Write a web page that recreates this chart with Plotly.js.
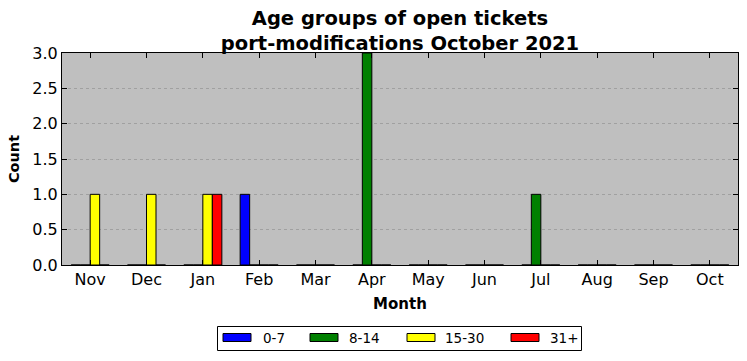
<!DOCTYPE html>
<html>
<head>
<meta charset="utf-8">
<script src="https://cdn.plot.ly/plotly-3.0.1.min.js"></script>
<style>html,body{margin:0;padding:0;background:#fff;}#chart{width:747px;height:361px;}</style>
</head>
<body>
<div id="chart"></div>
<script>
// Data
const months = ["Nov","Dec","Jan","Feb","Mar","Apr","May","Jun","Jul","Aug","Sep","Oct"];
const seriesNames = ["0-7","8-14","15-30","31+"];
const seriesColors = ["#0000ff","#008000","#ffff00","#ff0000"];
const age0_7   = [0,0,0,1,0,0,0,0,0,0,0,0];
const age8_14  = [0,0,0,0,0,3,0,0,1,0,0,0];
const age15_30 = [1,1,1,0,0,0,0,0,0,0,0,0];
const age31p   = [0,0,1,0,0,0,0,0,0,0,0,0];
const seriesValues = [age0_7, age8_14, age15_30, age31p];
const yTicks = [0,0.5,1,1.5,2,2.5,3];

const FONT = "DejaVu Sans, sans-serif";
const W = 747, H = 361, ML = 62, MR = 9, MT = 53, MB = 96;
const PW = W - ML - MR, PH = H - MT - MB;
const px2x = p => (p - ML) / PW;
const px2y = p => (H - MB - p) / PH;

const traces = seriesNames.map((n, i) => ({
  type: "bar",
  name: n,
  x: months.map((m, k) => k),
  y: seriesValues[i],
  marker: {color: seriesColors[i], line: {color: "#000", width: 1}},
  showlegend: false,
  hoverinfo: "skip"
}));

// custom matplotlib-like legend
const shapes = [{
  type: "rect", xref: "paper", yref: "paper",
  x0: px2x(217.5), x1: px2x(581.5), y0: px2y(350.5), y1: px2y(326.5),
  line: {color: "#000", width: 1}, fillcolor: "#fff", layer: "above"
}];
const annotations = [];
const swX = [223, 310, 407, 511];
const txX = [261, 347, 443, 548];
seriesNames.forEach((n, i) => {
  shapes.push({
    type: "rect", xref: "paper", yref: "paper",
    x0: px2x(swX[i]), x1: px2x(swX[i] + 28), y0: px2y(341.5), y1: px2y(333.5),
    line: {color: "#000", width: 1}, fillcolor: seriesColors[i], layer: "above"
  });
  annotations.push({
    xref: "paper", yref: "paper", x: px2x(txX[i]), y: px2y(338),
    xanchor: "left", yanchor: "middle", showarrow: false,
    text: n, font: {family: FONT, size: 13.5, color: "#000"}
  });
});

const layout = {
  width: W, height: H,
  margin: {l: ML, r: MR, t: MT, b: MB, pad: 0},
  paper_bgcolor: "#fff",
  plot_bgcolor: "#bfbfbf",
  barmode: "group",
  bargap: 0.325,
  bargroupgap: 0,
  font: {family: FONT, color: "#000"},
  title: {
    text: "<b>Age groups of open tickets</b><br><b>port-modifications October 2021</b>",
    font: {family: FONT, size: 19.5, color: "#000"},
    x: 400 / W, xanchor: "center",
    xref: "container", yref: "container", y: 1 - 25 / H, yanchor: "middle"
  },
  xaxis: {
    range: [-0.5, 11.5],
    tickmode: "array", tickvals: months.map((m, k) => k), ticktext: months,
    ticks: "inside", ticklen: 5, tickcolor: "#000", tickwidth: 1,
    showline: true, linecolor: "#000", linewidth: 1, mirror: "allticks",
    showgrid: false, zeroline: false,
    tickfont: {family: FONT, size: 16, color: "#000"},
    title: {text: "<b>Month</b>", font: {family: FONT, size: 15, color: "#000"}, standoff: 10},
    fixedrange: true
  },
  yaxis: {
    range: [0, 3],
    tickmode: "array", tickvals: yTicks, ticktext: yTicks.map(v => v.toFixed(1)),
    ticks: "inside", ticklen: 5, tickcolor: "#000", tickwidth: 1,
    showline: true, linecolor: "#000", linewidth: 1, mirror: "allticks",
    showgrid: true, gridcolor: "#999999", griddash: "dot", gridwidth: 0.8,
    zeroline: false,
    tickfont: {family: FONT, size: 16, color: "#000"},
    title: {text: "<b>Count</b>", font: {family: FONT, size: 14.5, color: "#000"}, standoff: 9},
    fixedrange: true
  },
  shapes: shapes,
  annotations: annotations,
  showlegend: false
};

Plotly.newPlot("chart", traces, layout, {displayModeBar: false, staticPlot: true});
</script>
</body>
</html>
